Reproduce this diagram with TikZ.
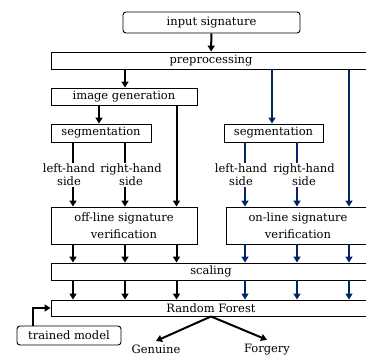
\documentclass[tikz,border=0pt]{standalone}
\usepackage{fontspec}
\setmainfont{DejaVu Serif}
\usetikzlibrary{arrows.meta}
\definecolor{navy}{RGB}{0,38,100}
\tikzset{
  box/.style={draw,line width=0.9pt,inner sep=0pt,font=\fontsize{11.5}{12}\selectfont},
  rbox/.style={box,rounded corners=3pt},
  lbl/.style={align=center,inner sep=0pt,font=\fontsize{11.5}{13.4}\selectfont},
  arr/.style={line width=2pt,-{Triangle[width=7pt,length=6pt]}},
  ln/.style={line width=2pt},
  barr/.style={arr,navy},
  bln/.style={ln,navy},
}
\begin{document}
\begin{tikzpicture}[x=1pt,y=-1pt]
\useasboundingbox (0,0) rectangle (366,356);
% boxes
\node[rbox,minimum width=177pt,minimum height=21pt] (in) at (211.5,22.5) {input signature};
\node[box,minimum width=320pt,minimum height=17pt] (pre) at (211,60.5) {preprocessing};
\node[box,minimum width=146pt,minimum height=17pt] (img) at (124,96.5) {image generation};
\node[box,minimum width=100pt,minimum height=18pt] (segL) at (101,133) {segmentation};
\node[box,minimum width=99pt,minimum height=18pt] (segR) at (273.5,133) {segmentation};
\node[box,minimum width=146pt,minimum height=37pt,align=center,font=\fontsize{11.5}{16.7}\selectfont] (off) at (124,225.5) {off-line signature\\verification};
\node[box,minimum width=144pt,minimum height=37pt,align=center,font=\fontsize{11.5}{16.7}\selectfont] (on) at (298,225.5) {on-line signature\\verification};
\node[box,minimum width=320pt,minimum height=17pt] (sc) at (211,271.5) {scaling};
\node[box,minimum width=320pt,minimum height=16pt] (rf) at (211,308) {Random Forest};
\node[rbox,minimum width=104pt,minimum height=19pt] (tm) at (69,335.5) {trained model};
\node[lbl] (gen) at (156,349.5) {Genuine};
\node[lbl] (forg) at (267,349.5) {Forgery};
% hand labels
\node[lbl] (lL) at (69,175) {left-hand\\side};
\node[lbl] (rL) at (131,175) {right-hand\\side};
\node[lbl] (lR) at (241,175) {left-hand\\side};
\node[lbl] (rR) at (304,175) {right-hand\\side};
% coordinates
\coordinate (xa) at (73,0);
\coordinate (xb) at (125,0);
\coordinate (xc) at (176.5,0);
\coordinate (xd) at (245,0);
\coordinate (xe) at (297,0);
\coordinate (xf) at (349,0);
\coordinate (xg) at (99,0);
\coordinate (xh) at (272,0);
\coordinate (tmx) at (33,0);
% connectors
\draw[arr] (in) -- (pre);
\draw[arr] (pre.south -| xb) -- (img.north -| xb);
\draw[arr] (img.south -| xg) -- (segL.north -| xg);
\draw[arr] (img.south -| xc) -- (off.north -| xc);
\draw[barr] (pre.south -| xh) -- (segR.north -| xh);
\draw[barr] (pre.south -| xf) -- (on.north -| xf);
% hand lines
\draw[ln] (segL.south -| xa) -- ([yshift=1pt]lL.north -| xa);
\draw[arr] ([yshift=-1pt]lL.south -| xa) -- (off.north -| xa);
\draw[ln] (segL.south -| xb) -- ([yshift=1pt]rL.north -| xb);
\draw[arr] ([yshift=-1pt]rL.south -| xb) -- (off.north -| xb);
\draw[bln] (segR.south -| xd) -- ([yshift=1pt]lR.north -| xd);
\draw[barr] ([yshift=-1pt]lR.south -| xd) -- (on.north -| xd);
\draw[bln] (segR.south -| xe) -- ([yshift=1pt]rR.north -| xe);
\draw[barr] ([yshift=-1pt]rR.south -| xe) -- (on.north -| xe);
% to scaling and RF
\foreach \c in {xa,xb,xc}{
  \draw[arr] (off.south -| \c) -- (sc.north -| \c);
  \draw[arr] (sc.south -| \c) -- (rf.north -| \c);
}
\foreach \c in {xd,xe,xf}{
  \draw[barr] (on.south -| \c) -- (sc.north -| \c);
  \draw[barr] (sc.south -| \c) -- (rf.north -| \c);
}
\draw[arr] (tm.north -| tmx) |- (rf.west);
\draw[arr] (rf.south) -- ([yshift=4pt]gen.north);
\draw[arr] (rf.south) -- ([yshift=4pt]forg.north);
\end{tikzpicture}
\end{document}
